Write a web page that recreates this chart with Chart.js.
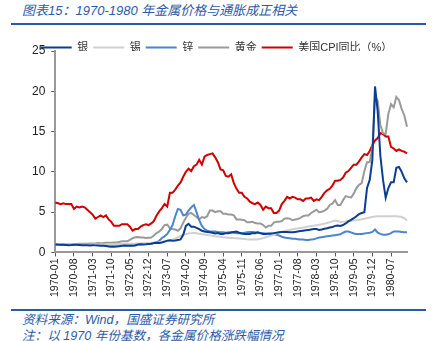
<!DOCTYPE html>
<html>
<head>
<meta charset="utf-8">
<script src="https://cdn.jsdelivr.net/npm/chart.js@4.4.0/dist/chart.umd.min.js"></script>
<style>
  body { margin: 0; width: 434px; height: 341px; background: #fff; position: relative; overflow: hidden; }
  .title { position: absolute; left: 22px; top: 3px; line-height: 16px; font-size: 13px; font-style: italic; color: #2b5ba8; white-space: nowrap; font-family: 'Liberation Sans', 'Noto Sans CJK SC', sans-serif; }
  .rule { position: absolute; left: 11px; width: 415px; height: 2px; background: #2b5ba8; }
  .note { position: absolute; left: 22px; line-height: 14px; font-size: 12.6px; font-style: italic; color: #2b5ba8; white-space: nowrap; font-family: 'Liberation Sans', 'Noto Sans CJK SC', sans-serif; }
  #wrap { position: absolute; left: 0; top: 30px; width: 434px; height: 271px; }
</style>
</head>
<body>
<div class="title">图表15：1970-1980 年金属价格与通胀成正相关</div>
<div class="rule" style="top:23px"></div>
<div id="wrap"><canvas id="chart"></canvas></div>
<div class="rule" style="top:309px"></div>
<div class="note" style="top:313px">资料来源：Wind，国盛证券研究所</div>
<div class="note" style="top:329px">注：以 1970 年份基数，各金属价格涨跌幅情况</div>
<script>
// monthly, 1970-01 .. 1981-01, all metals indexed to 1970-01 = 1
var months = []
for (var y = 1970; y <= 1981; y++) {
  for (var m = 1; m <= 12; m++) {
    months.push(y + '-' + (m < 10 ? '0' + m : m))
  }
}
months = months.slice(0, 133)

var silver = [
  1.00, 0.98, 0.97, 0.96, 0.93, 0.90, 0.92, 0.96, 0.95, 0.92, 0.89, 0.88,
  0.88, 0.86, 0.89, 0.88, 0.85, 0.82, 0.83, 0.80, 0.75, 0.72, 0.72, 0.74,
  0.78, 0.84, 0.85, 0.84, 0.82, 0.84, 0.87, 0.98, 1.02, 1.00, 1.02, 1.05,
  1.08, 1.18, 1.20, 1.17, 1.23, 1.35, 1.47, 1.52, 1.45, 1.48, 1.55, 1.62,
  2.20, 3.30, 3.55, 3.20, 3.20, 3.05, 2.90, 2.70, 2.60, 2.55, 2.50, 2.45,
  2.35, 2.40, 2.30, 2.30, 2.40, 2.40, 2.50, 2.55, 2.60, 2.45, 2.35, 2.30,
  2.30, 2.30, 2.40, 2.40, 2.50, 2.40, 2.30, 2.30, 2.35, 2.35, 2.40, 2.45,
  2.50, 2.55, 2.55, 2.55, 2.50, 2.50, 2.55, 2.60, 2.65, 2.70, 2.75, 2.80,
  2.85, 2.90, 2.90, 2.80, 2.85, 2.95, 3.00, 3.10, 3.15, 3.30, 3.35, 3.30,
  3.40, 3.60, 3.85, 4.05, 4.25, 4.50, 4.75, 4.90, 5.00, 8.00, 9.00, 11.50,
  20.60, 17.50, 12.00, 9.00, 6.80, 8.00, 8.70, 8.70, 10.50, 10.60, 10.00, 9.20,
  8.70
]

var tin = [
  1.00, 1.01, 1.02, 1.02, 1.01, 1.00, 0.99, 0.98, 0.97, 0.97, 0.96, 0.96,
  0.96, 0.97, 0.98, 0.98, 0.98, 0.99, 1.00, 1.00, 1.01, 1.01, 1.02, 1.03,
  1.04, 1.05, 1.06, 1.07, 1.08, 1.09, 1.10, 1.12, 1.13, 1.14, 1.15, 1.17,
  1.19, 1.22, 1.25, 1.28, 1.32, 1.36, 1.40, 1.46, 1.55, 1.70, 1.90, 2.05,
  2.20, 2.28, 2.35, 2.40, 2.42, 2.38, 2.32, 2.27, 2.22, 2.17, 2.12, 2.07,
  2.02, 1.98, 1.94, 1.90, 1.87, 1.84, 1.81, 1.78, 1.75, 1.72, 1.69, 1.66,
  1.63, 1.61, 1.60, 1.61, 1.64, 1.70, 1.78, 1.88, 1.98, 2.10, 2.22, 2.35,
  2.47, 2.56, 2.64, 2.72, 2.80, 2.87, 2.93, 2.99, 3.05, 3.10, 3.16, 3.22,
  3.28, 3.33, 3.38, 3.43, 3.50, 3.58, 3.66, 3.76, 3.88, 3.96, 3.90, 3.78,
  3.80, 3.85, 3.90, 3.94, 3.98, 4.02, 4.07, 4.12, 4.18, 4.26, 4.34, 4.40,
  4.46, 4.50, 4.50, 4.50, 4.50, 4.50, 4.50, 4.50, 4.48, 4.45, 4.40, 4.25,
  3.95
]

var zinc = [
  1.00, 0.98, 0.97, 0.96, 0.95, 0.94, 0.93, 0.93, 0.92, 0.92, 0.92, 0.92,
  0.92, 0.92, 0.93, 0.93, 0.94, 0.94, 0.95, 0.95, 0.95, 0.96, 0.96, 0.97,
  0.97, 0.98, 0.98, 0.99, 0.99, 1.00, 1.01, 1.02, 1.03, 1.05, 1.07, 1.09,
  1.12, 1.18, 1.26, 1.45, 1.80, 2.00, 2.30, 2.80, 3.40, 4.50, 5.40, 5.30,
  4.60, 4.70, 5.20, 5.60, 5.90, 5.00, 4.00, 3.30, 2.90, 2.70, 2.60, 2.60,
  2.60, 2.55, 2.50, 2.50, 2.45, 2.50, 2.45, 2.45, 2.40, 2.40, 2.40, 2.45,
  2.50, 2.55, 2.55, 2.50, 2.45, 2.40, 2.40, 2.35, 2.30, 2.30, 2.25, 2.20,
  2.10, 1.95, 1.85, 1.80, 1.75, 1.70, 1.70, 1.65, 1.60, 1.60, 1.55, 1.55,
  1.60, 1.65, 1.75, 1.85, 1.90, 1.95, 2.00, 2.05, 2.10, 2.15, 2.20, 2.25,
  2.45, 2.60, 2.60, 2.50, 2.35, 2.30, 2.30, 2.30, 2.35, 2.40, 2.45, 2.55,
  2.85, 2.45, 2.30, 2.20, 2.20, 2.25, 2.40, 2.60, 2.60, 2.60, 2.55, 2.50,
  2.50
]

var gold = [
  1.00, 1.00, 1.00, 1.02, 1.03, 1.01, 1.01, 1.01, 1.03, 1.07, 1.07, 1.07,
  1.08, 1.10, 1.11, 1.11, 1.16, 1.15, 1.17, 1.22, 1.20, 1.21, 1.23, 1.24,
  1.31, 1.38, 1.38, 1.40, 1.56, 1.77, 1.88, 1.91, 1.87, 1.85, 1.80, 1.83,
  1.86, 2.10, 2.40, 2.60, 2.90, 3.40, 3.45, 3.00, 2.90, 2.85, 2.70, 3.00,
  3.70, 4.30, 4.80, 4.90, 4.65, 4.40, 4.10, 4.40, 4.30, 4.50, 5.20, 5.20,
  5.00, 5.10, 5.10, 4.80, 4.80, 4.70, 4.70, 4.60, 4.10, 4.10, 4.05, 4.00,
  3.75, 3.75, 3.80, 3.65, 3.60, 3.60, 3.40, 3.10, 3.30, 3.30, 3.70, 3.80,
  3.80, 3.90, 4.20, 4.25, 4.20, 4.00, 4.10, 4.15, 4.30, 4.50, 4.60, 4.60,
  4.90, 5.10, 5.30, 5.00, 5.05, 5.20, 5.40, 5.90, 6.05, 6.50, 5.90, 5.90,
  6.50, 7.00, 6.90, 6.80, 7.30, 8.00, 8.40, 8.60, 10.10, 11.20, 11.20, 13.00,
  19.30, 18.80, 15.80, 14.80, 14.70, 17.20, 18.40, 18.00, 19.30, 18.90, 17.80, 17.00,
  15.60
]

// US CPI, year over year, %
var cpi = [
  6.2, 6.1, 6.0, 6.1, 6.0, 6.0, 6.0, 5.4, 5.7, 5.6, 5.7, 5.6,
  5.3, 5.0, 4.7, 4.2, 4.4, 4.6, 4.4, 4.6, 4.1, 3.8, 3.3, 3.3,
  3.3, 3.5, 3.5, 3.5, 3.2, 2.7, 2.9, 2.9, 3.2, 3.4, 3.5, 3.4,
  3.6, 3.9, 4.6, 5.1, 5.5, 6.0, 5.7, 7.4, 7.4, 7.8, 8.3, 8.7,
  9.4, 10.0, 10.4, 10.1, 10.7, 10.9, 11.5, 10.9, 11.9, 12.1, 12.2, 12.3,
  11.8, 11.2, 10.3, 10.2, 9.5, 9.4, 9.7, 8.6, 7.9, 7.4, 7.4, 6.9,
  6.7, 6.3, 6.1, 6.0, 6.2, 5.9, 5.3, 5.7, 5.5, 5.5, 4.9, 4.9,
  5.2, 6.0, 6.4, 6.9, 6.7, 6.9, 6.8, 6.6, 6.6, 6.4, 6.7, 6.7,
  6.8, 6.4, 6.6, 6.5, 6.9, 7.4, 7.7, 7.9, 8.3, 8.9, 8.9, 9.0,
  9.3, 9.9, 10.1, 10.5, 10.9, 10.9, 11.3, 11.8, 12.2, 12.1, 12.6, 13.3,
  13.9, 14.2, 14.8, 14.7, 14.4, 14.4, 13.1, 12.9, 12.6, 12.8, 12.6, 12.5,
  12.3
]

var seriesNames = ['银', '锡', '锌', '黄金', '美国CPI同比（%）']
var seriesColors = ['#0b3d91', '#d0d0d0', '#4a86d0', '#9a9a9a', '#d00000']
var seriesData = [silver, tin, zinc, gold, cpi]

var fontFamily = "'Liberation Sans', 'Noto Sans CJK SC', sans-serif"

var datasets = seriesData.map(function (values, i) {
  return {
    label: seriesNames[i],
    data: values,
    borderColor: seriesColors[i],
    backgroundColor: seriesColors[i],
    borderWidth: 2,
    pointRadius: 0,
    tension: 0,
    fill: false
  }
})

var chart = new Chart(document.getElementById('chart'), {
  type: 'line',
  data: {
    labels: months,
    datasets: datasets
  },
  options: {
    responsive: true,
    maintainAspectRatio: false,
    animation: false,
    layout: { padding: { left: 26, right: 27, top: 7, bottom: 2 } },
    plugins: {
      tooltip: { enabled: false },
      legend: {
        position: 'top',
        maxHeight: 14,
        labels: {
          usePointStyle: true,
          pointStyle: 'line',
          pointStyleWidth: 31,
          padding: 5,
          color: '#333',
          font: { size: 11, family: fontFamily }
        }
      }
    },
    scales: {
      x: {
        grid: {
          drawOnChartArea: false,
          tickLength: 4,
          tickColor: function (ctx) { return ctx.index % 7 === 0 ? '#555' : 'rgba(0,0,0,0)' }
        },
        border: { color: '#999', width: 2 },
        ticks: {
          autoSkip: false,
          maxRotation: 90,
          minRotation: 90,
          padding: 2,
          color: '#222',
          font: { size: 10.5, family: fontFamily },
          callback: function (v, i) { return i % 7 === 0 ? months[i] : '' }
        }
      },
      y: {
        min: 0,
        max: 25,
        grid: { drawOnChartArea: false, tickLength: 4, tickColor: '#555' },
        border: { color: '#999', width: 2 },
        ticks: {
          stepSize: 5,
          padding: 6,
          color: '#222',
          font: { size: 12, family: fontFamily }
        }
      }
    }
  }
})
</script>
</body>
</html>
